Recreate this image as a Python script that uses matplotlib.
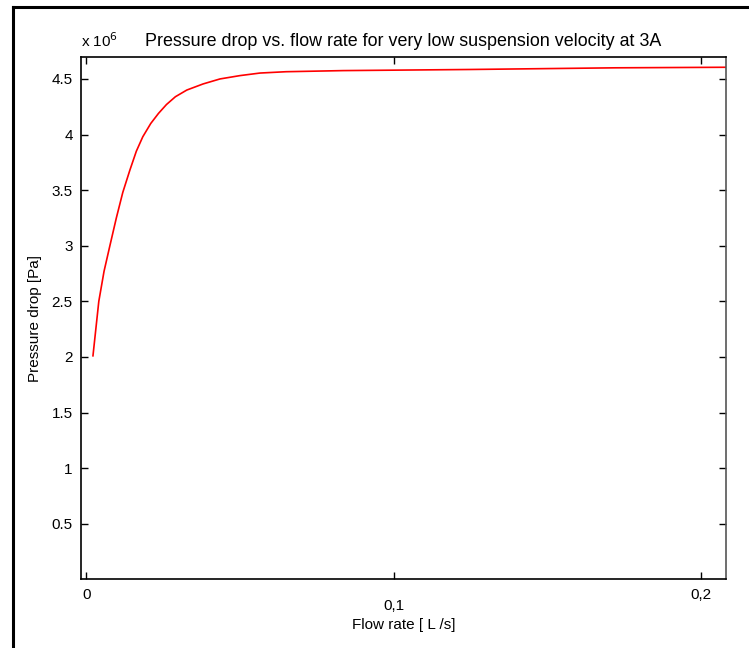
import matplotlib
matplotlib.use("Agg")
import matplotlib.pyplot as plt
import matplotlib.transforms as mtransforms
from matplotlib.lines import Line2D
from matplotlib.ticker import FuncFormatter

# flow rate [L/s] and pressure drop [Pa]
flow = [0.0022, 0.0041, 0.0058, 0.0077, 0.0098, 0.0119, 0.0142, 0.0163,
        0.0184, 0.0210, 0.0235, 0.0261, 0.0290, 0.0327, 0.0380, 0.0435,
        0.0500, 0.0565, 0.0650, 0.0836, 0.1248, 0.1720, 0.2080]
pressure = [2.01e6, 2.50e6, 2.77e6, 3.00e6, 3.25e6, 3.48e6, 3.68e6, 3.85e6,
            3.98e6, 4.10e6, 4.19e6, 4.27e6, 4.34e6, 4.40e6, 4.455e6, 4.50e6,
            4.53e6, 4.553e6, 4.565e6, 4.575e6, 4.585e6, 4.60e6, 4.605e6]

x_ticks = [0, 0.1, 0.2]
x_tick_labels = ["0", "0,1", "0,2"]
y_ticks = [0.5e6, 1e6, 1.5e6, 2e6, 2.5e6, 3e6, 3.5e6, 4e6, 4.5e6]

plt.rcParams['font.family'] = ['Liberation Sans', 'DejaVu Sans']
plt.rcParams['font.size'] = 11

fig = plt.figure(figsize=(7.49, 6.48), dpi=100)
ax = fig.add_axes([0.1081, 0.106, 0.8612, 0.8065])

ax.plot(flow, pressure, color="red", linewidth=1.2)

ax.set_xlim(-0.0017, 0.208)
ax.set_ylim(0, 4.7e6)
ax.set_xticks(x_ticks)
ax.set_xticklabels(x_tick_labels)
ax.set_yticks(y_ticks)
ax.yaxis.set_major_formatter(FuncFormatter(lambda v, p: "%g" % (v / 1e6)))
ax.tick_params(direction="in", length=5, width=1, top=True, right=True, pad=6)

# the middle x label sits a bit lower in the original
lab = ax.get_xticklabels()[1]
lab.set_transform(lab.get_transform() + mtransforms.ScaledTranslation(0, -8 / 72, fig.dpi_scale_trans))

for s in ax.spines.values():
    s.set_linewidth(1.2)
ax.spines["right"].set_color("#555555")

ax.set_title("Pressure drop vs. flow rate for very low suspension velocity at 3A", pad=8, fontsize=12.9)
ax.text(0.0, 1.012, r"x 10$^6$", transform=ax.transAxes, ha="left", va="bottom")
ax.set_xlabel("Flow rate [ L /s]", labelpad=4)
ax.set_ylabel("Pressure drop [Pa]", labelpad=7)

# outer frame of the original screenshot
fig.add_artist(Line2D([13 / 749, 13 / 749], [0, 1 - 7 / 648], color="black", linewidth=2.2, transform=fig.transFigure))
fig.add_artist(Line2D([13 / 749, 1], [1 - 7 / 648, 1 - 7 / 648], color="black", linewidth=2.2, transform=fig.transFigure))

fig.savefig("out.png", dpi=100)
